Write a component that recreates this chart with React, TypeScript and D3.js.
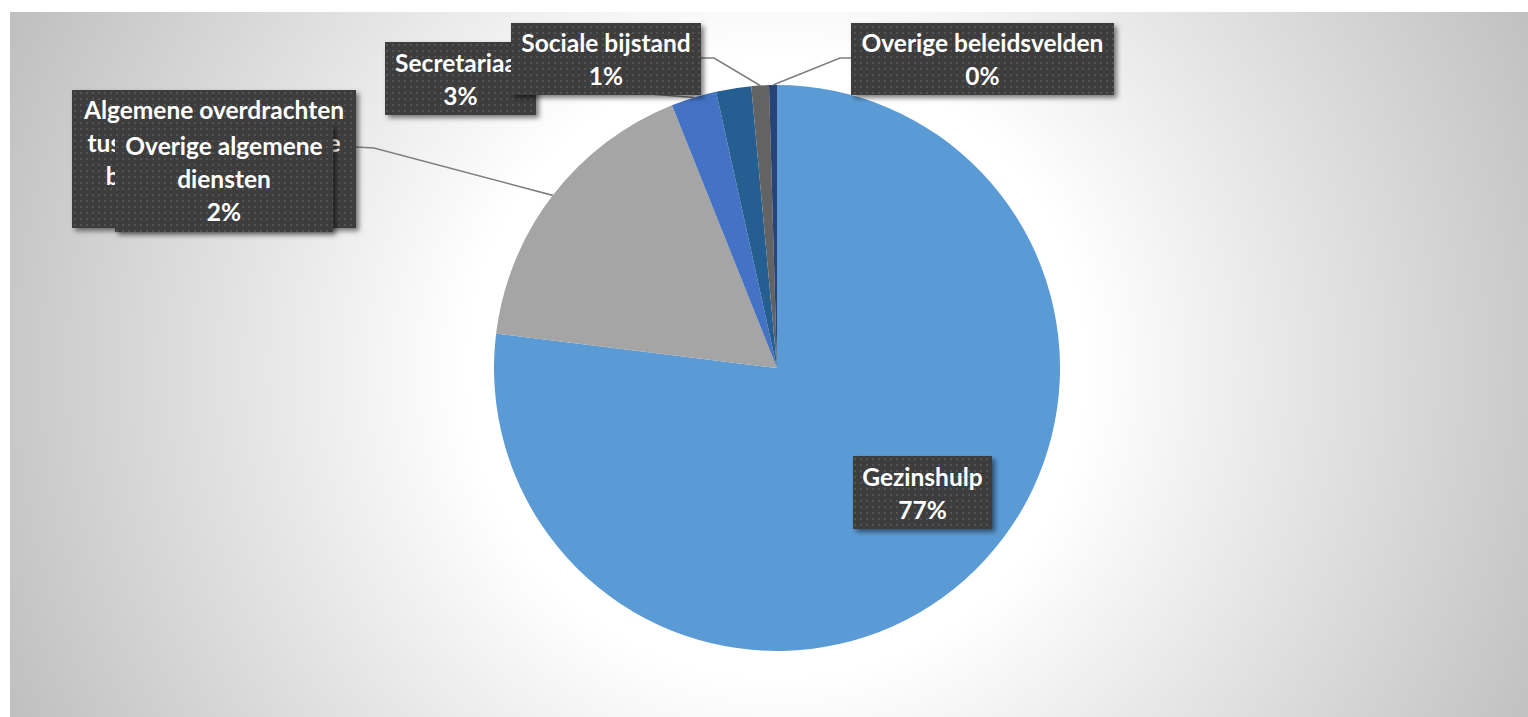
import React from 'react';
import * as d3 from 'd3';

const categories = [
  'Gezinshulp',
  'Algemene overdrachten tussen de verschillende bestuurlijke niveaus',
  'Secretariaat',
  'Overige algemene diensten',
  'Sociale bijstand',
  'Overige beleidsvelden',
];
const values = [76.9, 17.0, 2.6, 2.0, 1.0, 0.45];
const sliceColors = ['#5B9BD5', '#A5A5A5', '#4472C4', '#255E91', '#636363', '#264478'];
const labelLines = [
  ['Gezinshulp'],
  ['Algemene overdrachten', 'tussen de verschillende', 'bestuurlijke niveaus'],
  ['Secretariaat'],
  ['Overige algemene', 'diensten'],
  ['Sociale bijstand'],
  ['Overige beleidsvelden'],
];

// layout (label boxes placed manually, as in the original)
const W = 1528;
const H = 717;
const CX = 777;
const CY = 368;
const R = 283;
const labelBoxes = [
  { x: 853, y: 456, w: 139, h: 73 },
  { x: 72, y: 90, w: 284, h: 138 },
  { x: 385, y: 42, w: 151, h: 73 },
  { x: 115, y: 125, w: 218, h: 107 },
  { x: 511, y: 23, w: 190, h: 72 },
  { x: 851, y: 23, w: 263, h: 72 },
];
// leader start points (box side) with optional elbow
const leaderStarts: (number[][] | null)[] = [
  null,
  [[356, 147], [374, 148]],
  [[536, 90], [600, 90]],
  null,
  [[701, 58], [714, 58]],
  [[851, 58], [840, 58]],
];
const LINE_H = 33;

export default function App() {
  const pie = d3.pie<number>().sort(null).value((d) => d)(values);
  const arc = d3.arc<d3.PieArcDatum<number>>().innerRadius(0).outerRadius(R);
  const total = d3.sum(values);

  return (
    <svg
      width={W}
      height={H}
      style={{ position: 'absolute', left: 0, top: 0, display: 'block' }}
      fontFamily="Lato, 'Open Sans', sans-serif"
    >
      <defs>
        <radialGradient id="bg" gradientUnits="userSpaceOnUse" cx={CX} cy={CY} r={860}>
          <stop offset="0" stopColor="#ffffff" />
          <stop offset="0.36" stopColor="#ffffff" />
          <stop offset="0.6" stopColor="#e6e6e6" />
          <stop offset="1" stopColor="#bdbdbd" />
        </radialGradient>
        <pattern id="dots" width="6" height="6" patternUnits="userSpaceOnUse">
          <rect width="6" height="6" fill="#3d3d3d" />
          <rect x="2" y="2" width="2" height="2" fill="#525252" />
        </pattern>
        <filter id="shadow" x="-10%" y="-10%" width="130%" height="140%">
          <feDropShadow dx="3" dy="3" stdDeviation="2.5" floodColor="#000" floodOpacity="0.5" />
        </filter>
      </defs>
      <rect x={10} y={12} width={W - 10} height={H - 12} fill="url(#bg)" />
      <g transform={`translate(${CX},${CY})`}>
        {pie.map((p, i) => (
          <path key={categories[i]} d={arc(p) || ''} fill={sliceColors[i]} />
        ))}
      </g>
      {pie.map((p, i) => {
        const st = leaderStarts[i];
        if (!st) return null;
        const mid = (p.startAngle + p.endAngle) / 2;
        const ex = CX + R * Math.sin(mid);
        const ey = CY - R * Math.cos(mid);
        const pts = [...st, [ex, ey]];
        return (
          <polyline
            key={'l' + i}
            points={pts.map((q) => q.join(',')).join(' ')}
            fill="none"
            stroke="#7f7f7f"
            strokeWidth={1.6}
          />
        );
      })}
      {pie.map((p, i) => {
        const b = labelBoxes[i];
        const pct = Math.round((values[i] / total) * 100) + '%';
        const lines = [...labelLines[i], pct];
        const cx = b.x + b.w / 2;
        const cy = b.y + b.h / 2;
        const y0 = cy - ((lines.length - 1) * LINE_H) / 2;
        return (
          <g key={'b' + i}>
            <rect x={b.x} y={b.y} width={b.w} height={b.h} fill="url(#dots)" filter="url(#shadow)" />
            {lines.map((t, j) => (
              <text
                key={j}
                x={cx}
                y={y0 + j * LINE_H}
                textAnchor="middle"
                dominantBaseline="central"
                fill="#ffffff"
                fontWeight="bold"
                fontSize={24.5}
              >
                {t}
              </text>
            ))}
          </g>
        );
      })}
    </svg>
  );
}
